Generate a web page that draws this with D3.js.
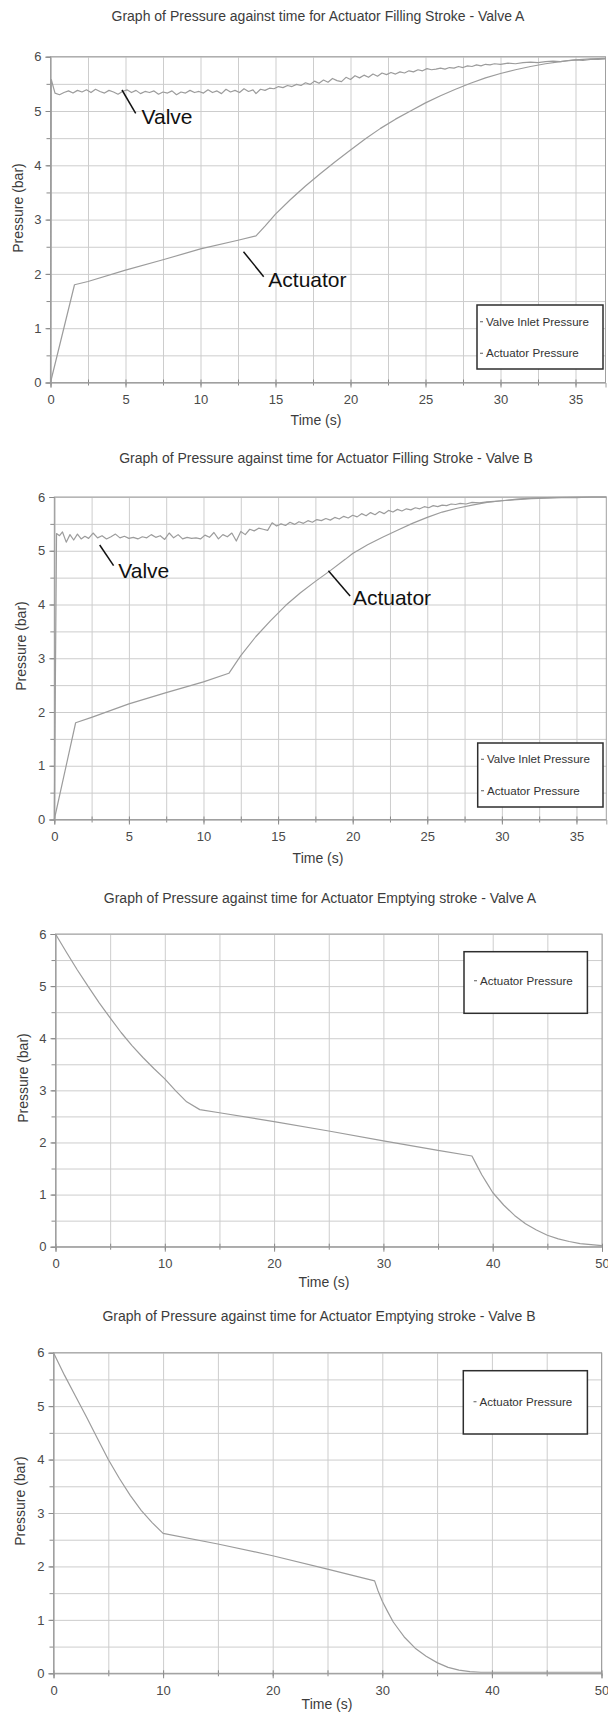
<!DOCTYPE html>
<html><head><meta charset="utf-8">
<script src="https://cdn.jsdelivr.net/npm/d3@7"></script>
<style>
body{margin:0;background:#fff;}
svg{display:block;font-family:"Liberation Sans",Arial,sans-serif;}
</style></head>
<body>
<svg id="c" width="608" height="1713"></svg>
<script>
// ---------------- DATA ----------------
const titles = [
  "Graph of Pressure against time for Actuator Filling Stroke - Valve A",
  "Graph of Pressure against time for Actuator Filling Stroke - Valve B",
  "Graph of Pressure against time for Actuator Emptying stroke - Valve A",
  "Graph of Pressure against time for Actuator Emptying stroke - Valve B"
];
const yTicks = [0,1,2,3,4,5,6];
const yGrid = [0,0.5,1,1.5,2,2.5,3,3.5,4,4.5,5,5.5,6];
const xTicksFill = [0,5,10,15,20,25,30,35];
const xGridFill = [0,2.5,5,7.5,10,12.5,15,17.5,20,22.5,25,27.5,30,32.5,35];
const xTicksEmpty = [0,10,20,30,40,50];
const xGridEmpty = [0,5,10,15,20,25,30,35,40,45,50];
const legendFill = ["Valve Inlet Pressure","Actuator Pressure"];
const legendEmpty = ["Actuator Pressure"];
const xLabel = "Time (s)";
const yLabel = "Pressure (bar)";

// Filling stroke - Valve A
const valveA = [[0,0],[0.05,5.58],[0.3,5.33],[0.6,5.30],[0.9,5.34],[1.2,5.37],[1.5,5.33],[1.8,5.38],[2.1,5.35],[2.4,5.39],[2.7,5.34],[3.0,5.40],[3.3,5.36],[3.6,5.33],[3.9,5.38],[4.2,5.35],[4.5,5.31],[4.8,5.36],[5.1,5.39],[5.4,5.34],[5.7,5.38],[6.0,5.32],[6.3,5.36],[6.6,5.34],[6.9,5.37],[7.2,5.31],[7.5,5.35],[7.8,5.33],[8.1,5.37],[8.4,5.30],[8.7,5.35],[9.0,5.33],[9.3,5.38],[9.6,5.34],[9.9,5.36],[10.2,5.33],[10.5,5.39],[10.8,5.34],[11.1,5.37],[11.4,5.32],[11.7,5.40],[12.0,5.35],[12.3,5.38],[12.6,5.34],[12.9,5.41],[13.2,5.36],[13.5,5.39],[13.7,5.32],[14.0,5.40],[14.3,5.38],[14.6,5.42],[14.9,5.41],[15.2,5.45],[15.5,5.43],[15.8,5.47],[16.1,5.45],[16.4,5.49],[16.7,5.47],[17.0,5.52],[17.3,5.49],[17.6,5.55],[17.9,5.51],[18.2,5.57],[18.5,5.53],[18.8,5.60],[19.1,5.56],[19.4,5.54],[19.7,5.62],[20.0,5.58],[20.3,5.65],[20.6,5.61],[20.9,5.66],[21.2,5.62],[21.5,5.68],[21.8,5.64],[22.1,5.70],[22.4,5.67],[22.7,5.71],[23.0,5.68],[23.3,5.72],[23.6,5.70],[23.9,5.74],[24.2,5.72],[24.5,5.76],[24.8,5.74],[25.1,5.78],[25.4,5.76],[25.7,5.77],[26.0,5.79],[26.3,5.77],[26.6,5.80],[26.9,5.79],[27.2,5.82],[27.5,5.80],[27.8,5.83],[28.1,5.82],[28.4,5.85],[28.7,5.83],[29.0,5.86],[29.3,5.85],[29.6,5.87],[30.0,5.86],[30.5,5.88],[31.0,5.87],[31.5,5.89],[32.0,5.90],[32.5,5.89],[33.0,5.91],[33.5,5.92],[34.0,5.91],[34.5,5.93],[35.0,5.94],[35.5,5.93],[36.0,5.95],[36.5,5.95],[37.0,5.96]];
const actuatorA = [[0,0],[1.6,1.80],[2.5,1.86],[5,2.07],[7.5,2.26],[10,2.46],[12.5,2.62],[13.7,2.70],[14.3,2.88],[15,3.10],[16,3.37],[17,3.62],[18,3.85],[19,4.07],[20,4.28],[21,4.49],[22,4.68],[23,4.85],[24,5.00],[25,5.15],[26,5.28],[27,5.40],[28,5.51],[29,5.61],[30,5.69],[31,5.76],[32,5.82],[33,5.87],[34,5.91],[35,5.94],[36,5.96],[37,5.97]];

// Filling stroke - Valve B
const valveB = [[0,0],[0.15,5.32],[0.35,5.28],[0.55,5.35],[0.8,5.16],[1.05,5.30],[1.3,5.20],[1.55,5.31],[1.8,5.22],[2.05,5.27],[2.3,5.23],[2.6,5.33],[2.9,5.24],[3.2,5.28],[3.5,5.22],[3.8,5.26],[4.1,5.31],[4.4,5.24],[4.7,5.27],[5.0,5.23],[5.3,5.25],[5.6,5.22],[5.9,5.26],[6.2,5.24],[6.5,5.30],[6.8,5.25],[7.1,5.28],[7.4,5.21],[7.7,5.33],[8.0,5.24],[8.3,5.30],[8.6,5.22],[8.9,5.25],[9.2,5.23],[9.5,5.24],[9.8,5.22],[10.1,5.29],[10.4,5.25],[10.7,5.34],[11.0,5.22],[11.3,5.30],[11.6,5.26],[11.9,5.33],[12.2,5.18],[12.5,5.36],[12.8,5.30],[13.1,5.40],[13.4,5.37],[13.7,5.42],[14.0,5.40],[14.3,5.38],[14.6,5.52],[14.9,5.46],[15.2,5.50],[15.5,5.47],[15.8,5.53],[16.1,5.49],[16.4,5.54],[16.7,5.51],[17.0,5.56],[17.3,5.53],[17.6,5.58],[17.9,5.56],[18.2,5.60],[18.5,5.57],[18.8,5.62],[19.1,5.59],[19.4,5.64],[19.7,5.61],[20.0,5.66],[20.3,5.63],[20.6,5.69],[20.9,5.65],[21.2,5.71],[21.5,5.67],[21.8,5.73],[22.1,5.69],[22.4,5.75],[22.7,5.72],[23.0,5.77],[23.3,5.74],[23.6,5.78],[23.9,5.76],[24.2,5.80],[24.5,5.78],[24.8,5.82],[25.1,5.80],[25.4,5.84],[25.7,5.82],[26.0,5.85],[26.3,5.84],[26.6,5.87],[26.9,5.86],[27.2,5.88],[27.6,5.87],[28.0,5.90],[28.5,5.89],[29.0,5.91],[29.5,5.92],[30.0,5.93],[30.5,5.94],[31.0,5.95],[31.5,5.96],[32.0,5.97],[33.0,5.98],[34.0,5.99],[35.0,5.99],[36.0,6.0],[37.0,6.0]];
const actuatorB = [[0,0],[1.43,1.80],[2.5,1.90],[5,2.15],[7.5,2.36],[10,2.56],[11.7,2.72],[12.5,3.05],[13.5,3.40],[14.5,3.70],[15.5,3.98],[16.5,4.22],[17.5,4.43],[18.5,4.63],[19.5,4.84],[20,4.95],[21,5.11],[22,5.25],[23,5.38],[24,5.51],[25,5.62],[26,5.72],[27,5.79],[28,5.85],[29,5.90],[30,5.93],[31,5.96],[32,5.98],[33,5.99],[35,6.0],[37,6.0]];

// Emptying stroke
const emptyA = [[0,6.0],[1,5.65],[2,5.31],[3,4.99],[4,4.68],[5,4.39],[6,4.11],[7,3.86],[8,3.63],[9,3.42],[10,3.22],[11,2.99],[12,2.78],[13.2,2.63],[15,2.57],[20,2.40],[25,2.22],[30,2.03],[35,1.85],[38.1,1.74],[38.5,1.58],[39,1.38],[39.5,1.21],[40,1.04],[40.5,0.92],[41,0.80],[42,0.60],[43,0.44],[44,0.32],[45,0.22],[46,0.15],[47,0.10],[48,0.06],[49,0.04],[50,0.02]];
const emptyB = [[0,6.0],[1,5.58],[2,5.19],[3,4.80],[4,4.40],[5,4.0],[6,3.65],[7,3.33],[8,3.05],[9,2.82],[10,2.62],[15,2.42],[20,2.20],[25,1.95],[29.3,1.73],[29.6,1.55],[30,1.35],[30.5,1.15],[31,0.96],[31.5,0.82],[32,0.68],[33,0.47],[34,0.32],[35,0.20],[36,0.11],[37,0.06],[38,0.03],[39,0.02],[50,0.02]];

// ---------------- LAYOUT ----------------
const charts = [
  {title:titles[0], tx:318, ty:16, L:50.5, R:605.5, T:56.7, B:382.5, xMax:37, xTicks:xTicksFill, xGrid:xGridFill,
   series:[valveA, actuatorA], legend:legendFill, lg:{x0:477,x1:603,y0:305,y1:369,rows:[321.7,353.3],tx:486},
   ylab:[17.5,208], xlab:[316,420],
   notes:[{text:"Valve",x:141.5,y:124,l:[122,90,135.7,113.3]},{text:"Actuator",x:268.3,y:286.5,l:[243.5,251.7,263.7,276.7]}]},
  {title:titles[1], tx:326, ty:458, L:54.3, R:606.3, T:497, B:819.5, xMax:37, xTicks:xTicksFill, xGrid:xGridFill,
   series:[valveB, actuatorB], legend:legendFill, lg:{x0:477.7,x1:603,y0:743,y1:807,rows:[759.3,790.7],tx:487},
   ylab:[21,646], xlab:[318,858],
   notes:[{text:"Valve",x:118.3,y:577.5,l:[99.7,545,113.6,565.7]},{text:"Actuator",x:352.9,y:605,l:[328.4,570.7,350.1,596]}]},
  {title:titles[2], tx:320, ty:898, L:55.5, R:602, T:934, B:1246.7, xMax:50, xTicks:xTicksEmpty, xGrid:xGridEmpty,
   series:[emptyA], legend:legendEmpty, lg:{x0:464,x1:587.4,y0:951.7,y1:1013.3,rows:[980.7],tx:480},
   ylab:[22.5,1078], xlab:[324,1282], notes:[]},
  {title:titles[3], tx:319, ty:1316, L:53.5, R:601.5, T:1352.7, B:1673.3, xMax:50, xTicks:xTicksEmpty, xGrid:xGridEmpty,
   series:[emptyB], legend:legendEmpty, lg:{x0:463.3,x1:587.4,y0:1370.7,y1:1434,rows:[1401.7],tx:479.5},
   ylab:[20,1501], xlab:[327,1704], notes:[]}
];

const svg = d3.select("#c");
svg.append("rect").attr("width",608).attr("height",1713).attr("fill","#ffffff");

const gridCol = "#cdcdcd", axisCol = "#a0a0a0", lineCol = "#9c9c9c", txtCol = "#4a4a4a";

charts.forEach(cfg => {
  const x = d3.scaleLinear().domain([0,cfg.xMax]).range([cfg.L,cfg.R]);
  const y = d3.scaleLinear().domain([0,6]).range([cfg.B,cfg.T]);
  const g = svg.append("g");

  g.append("text").attr("x",cfg.tx).attr("y",cfg.ty+5).attr("text-anchor","middle")
    .attr("font-size",14).attr("fill","#3c3c3c").text(cfg.title);

  g.append("g").attr("transform",`translate(0,${cfg.T})`)
    .call(d3.axisBottom(x).tickValues(cfg.xGrid).tickSize(cfg.B-cfg.T).tickFormat(""))
    .call(s=>{s.select(".domain").remove(); s.selectAll("line").attr("stroke",gridCol).attr("stroke-width",1);});
  g.append("g").attr("transform",`translate(${cfg.L},0)`)
    .call(d3.axisRight(y).tickValues(yGrid).tickSize(cfg.R-cfg.L).tickFormat(""))
    .call(s=>{s.select(".domain").remove(); s.selectAll("line").attr("stroke",gridCol).attr("stroke-width",1);});

  g.append("rect").attr("x",cfg.L).attr("y",cfg.T).attr("width",cfg.R-cfg.L).attr("height",cfg.B-cfg.T)
    .attr("fill","none").attr("stroke",axisCol).attr("stroke-width",1);

  g.append("g").attr("transform",`translate(0,${cfg.B+3})`)
    .call(d3.axisTop(x).tickValues(cfg.xGrid).tickSize(6).tickFormat(""))
    .call(s=>{s.select(".domain").remove(); s.selectAll("line").attr("stroke","#8a8a8a");});
  g.append("g").attr("transform",`translate(${cfg.L},0)`)
    .call(d3.axisLeft(y).tickValues(yGrid).tickSize(4).tickFormat(""))
    .call(s=>{s.select(".domain").remove(); s.selectAll("line").attr("stroke","#8a8a8a");});

  g.append("g").attr("transform",`translate(0,${cfg.B})`)
    .call(d3.axisBottom(x).tickValues(cfg.xTicks).tickSize(5).tickPadding(7).tickFormat(d3.format("d")))
    .call(s=>{s.select(".domain").attr("stroke",axisCol); s.selectAll("line").attr("stroke","#8a8a8a");
      s.selectAll("text").attr("font-size",13).attr("fill",txtCol).attr("font-family","Liberation Sans, Arial, sans-serif");});
  g.append("g").attr("transform",`translate(${cfg.L},0)`)
    .call(d3.axisLeft(y).tickValues(yTicks).tickSize(5).tickPadding(4).tickFormat(d3.format("d")))
    .call(s=>{s.select(".domain").attr("stroke",axisCol); s.selectAll("line").attr("stroke","#8a8a8a");
      s.selectAll("text").attr("font-size",13).attr("fill",txtCol).attr("font-family","Liberation Sans, Arial, sans-serif");});

  g.append("text").attr("x",cfg.xlab[0]).attr("y",cfg.xlab[1]+5).attr("text-anchor","middle")
    .attr("font-size",14).attr("fill","#3c3c3c").text(xLabel);
  g.append("text").attr("transform",`translate(${cfg.ylab[0]+5},${cfg.ylab[1]}) rotate(-90)`)
    .attr("text-anchor","middle").attr("font-size",14).attr("fill","#3c3c3c").text(yLabel);

  const line = d3.line().x(d=>x(d[0])).y(d=>y(d[1]));
  cfg.series.forEach(s=>{
    g.append("path").datum(s).attr("d",line).attr("fill","none")
      .attr("stroke",lineCol).attr("stroke-width",1.2).attr("stroke-linejoin","round");
  });

  const lg = cfg.lg;
  g.append("rect").attr("x",lg.x0).attr("y",lg.y0).attr("width",lg.x1-lg.x0).attr("height",lg.y1-lg.y0)
    .attr("fill","#fff").attr("stroke","#2e2e2e").attr("stroke-width",1.5);
  cfg.legend.forEach((name,i)=>{
    const yy = lg.rows[i];
    g.append("line").attr("x1",lg.tx-6).attr("x2",lg.tx-3).attr("y1",yy).attr("y2",yy)
      .attr("stroke","#777").attr("stroke-width",1.2);
    g.append("text").attr("x",lg.tx).attr("y",yy+4).attr("font-size",11.6).attr("fill","#333").text(name);
  });

  cfg.notes.forEach(n=>{
    g.append("line").attr("x1",n.l[0]).attr("y1",n.l[1]).attr("x2",n.l[2]).attr("y2",n.l[3])
      .attr("stroke","#111").attr("stroke-width",1.5);
    g.append("text").attr("x",n.x).attr("y",n.y).attr("font-size",21).attr("fill","#111").text(n.text);
  });
});
</script>
</body></html>
